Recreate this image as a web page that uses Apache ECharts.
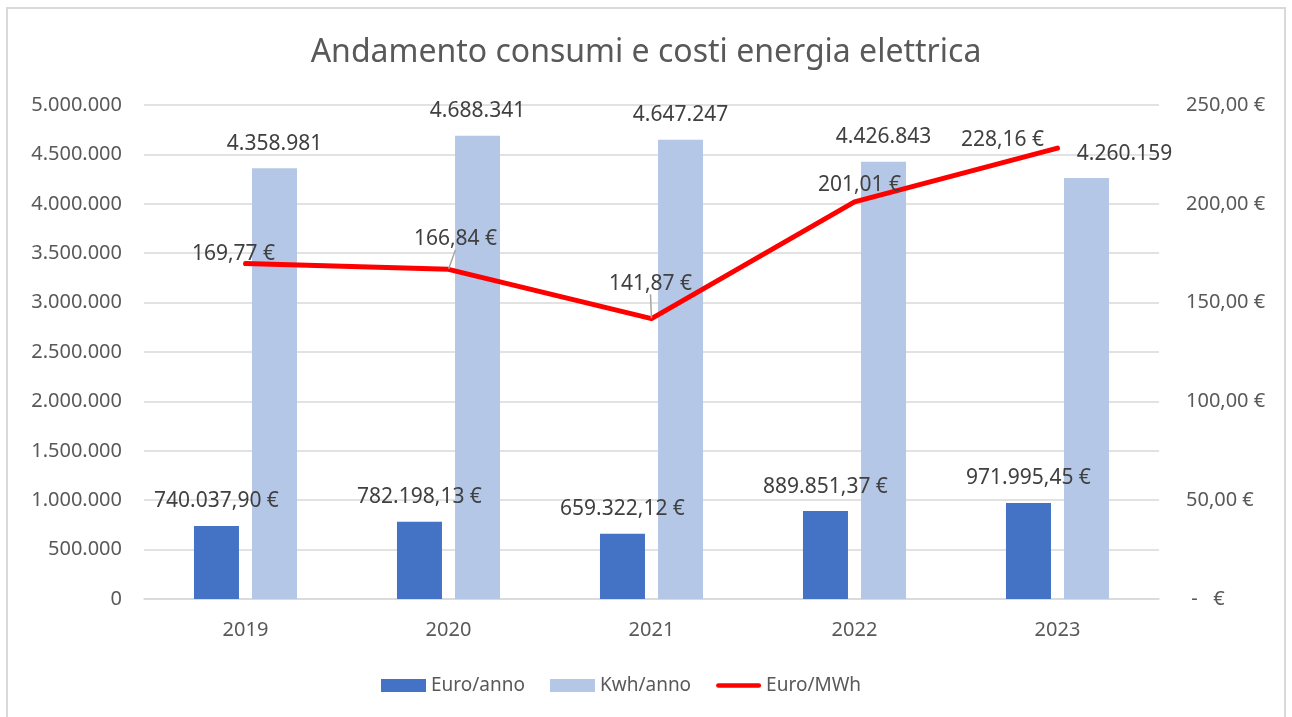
<!DOCTYPE html>
<html>

<head>
    <meta charset="utf-8">
    <title>Andamento consumi e costi energia elettrica</title>
    <script src="https://cdn.jsdelivr.net/npm/echarts@6/dist/echarts.min.js"></script>
    <style>
        html, body { margin: 0; padding: 0; background: #fff; }
        #main { width: 1292px; height: 717px; }
    </style>
</head>

<body>
    <div id="main"></div>
    <script type="text/javascript">
        // dati
        var anni = ['2019', '2020', '2021', '2022', '2023'];
        var euroAnno = [740037.90, 782198.13, 659322.12, 889851.37, 971995.45];
        var kwhAnno = [4358981, 4688341, 4647247, 4426843, 4260159];
        var euroMWh = [169.77, 166.84, 141.87, 201.01, 228.16];

        var grigio = '#595959';
        var font = '"Noto Sans", sans-serif';

        // formato italiano: 1.234.567,89
        function fmt(v, dec) {
            var parti = v.toFixed(dec).split('.');
            var intero = parti[0].replace(/\B(?=(\d{3})+(?!\d))/g, '.');
            return dec ? intero + ',' + parti[1] : intero;
        }

        // spostamenti etichette della linea (dx, dy rispetto a "top")
        var spostaLinea = [[-12, 6], [7, -14], [-1, -19], [5, -1], [-55, 8]];

        var myChart = echarts.init(document.getElementById('main'));
        var option = {
            animation: false,
            backgroundColor: '#fff',
            textStyle: { fontFamily: font },
            graphic: [{
                type: 'rect',
                shape: { x: 7, y: 8, width: 1278, height: 730 },
                style: { fill: 'none', stroke: '#d9d9d9', lineWidth: 2 },
                silent: true
            }],
            title: {
                text: 'Andamento consumi e costi energia elettrica',
                left: 'center',
                top: 32,
                textStyle: { color: grigio, fontSize: 32, fontWeight: 'normal', fontFamily: font }
            },
            legend: {
                bottom: 17,
                left: 376,
                itemWidth: 45,
                itemHeight: 13,
                itemGap: 25,
                textStyle: { color: grigio, fontSize: 19, fontFamily: font },
                data: [
                    { name: 'Euro/anno', icon: 'rect' },
                    { name: 'Kwh/anno', icon: 'rect' },
                    { name: 'Euro/MWh', icon: 'path://M2.5,0 H46.5 A2.5,2.5 0 0 1 46.5,5 H2.5 A2.5,2.5 0 0 1 2.5,0 Z' }
                ]
            },
            grid: { left: 144, right: 133, top: 105, bottom: 118 },
            xAxis: {
                type: 'category',
                data: anni,
                axisTick: { show: false },
                axisLine: { lineStyle: { color: '#d9d9d9', width: 1.5 } },
                axisLabel: { color: grigio, fontSize: 20, margin: 21 }
            },
            yAxis: [
                {
                    type: 'value',
                    min: 0,
                    max: 5000000,
                    interval: 500000,
                    axisLabel: {
                        color: grigio, fontSize: 20, margin: 22,
                        formatter: function (v) { return fmt(v, 0); }
                    },
                    splitLine: { lineStyle: { color: '#d9d9d9', width: 1.5 } }
                },
                {
                    type: 'value',
                    min: 0,
                    max: 250,
                    interval: 50,
                    axisLabel: {
                        color: grigio, fontSize: 20, margin: 27,
                        formatter: function (v) { return v === 0 ? ' -   €' : fmt(v, 2) + ' €'; }
                    },
                    splitLine: { show: false }
                }
            ],
            series: [
                {
                    name: 'Euro/anno',
                    type: 'bar',
                    barWidth: 45,
                    barGap: '29%',
                    itemStyle: { color: '#4472c4' },
                    label: {
                        show: true, position: 'top', distance: 14,
                        color: '#404040', fontSize: 21,
                        formatter: function (p) { return fmt(p.value, 2) + ' €'; }
                    },
                    data: euroAnno
                },
                {
                    name: 'Kwh/anno',
                    type: 'bar',
                    barWidth: 45,
                    itemStyle: { color: '#b4c7e7' },
                    label: {
                        show: true, position: 'top', distance: 14,
                        color: '#404040', fontSize: 21,
                        formatter: function (p) { return fmt(p.value, 0); }
                    },
                    data: kwhAnno.map(function (v, i) {
                        // l'ultima etichetta e' spostata a destra nell'originale
                        return i === 4 ? { value: v, label: { offset: [38, 0] } } : v;
                    })
                },
                {
                    name: 'Euro/MWh',
                    type: 'line',
                    yAxisIndex: 1,
                    symbol: 'circle',
                    symbolSize: 1,
                    showSymbol: true,
                    z: 5,
                    lineStyle: { color: '#ff0000', width: 5, cap: 'round', join: 'round' },
                    itemStyle: { color: '#ff0000' },
                    label: {
                        show: true, position: 'top',
                        color: '#404040', fontSize: 21,
                        formatter: function (p) { return fmt(p.value, 2) + ' €'; }
                    },
                    labelLine: { show: true, lineStyle: { color: '#a6a6a6', width: 1.5 } },
                    labelLayout: function (p) {
                        var s = spostaLinea[p.dataIndex];
                        return { dx: s[0], dy: s[1] };
                    },
                    data: euroMWh.map(function (v, i) {
                        // guida solo per 2020 e 2021
                        return (i === 1 || i === 2) ? v : { value: v, labelLine: { show: false } };
                    })
                }
            ]
        };
        myChart.setOption(option);
    </script>
</body>

</html>
